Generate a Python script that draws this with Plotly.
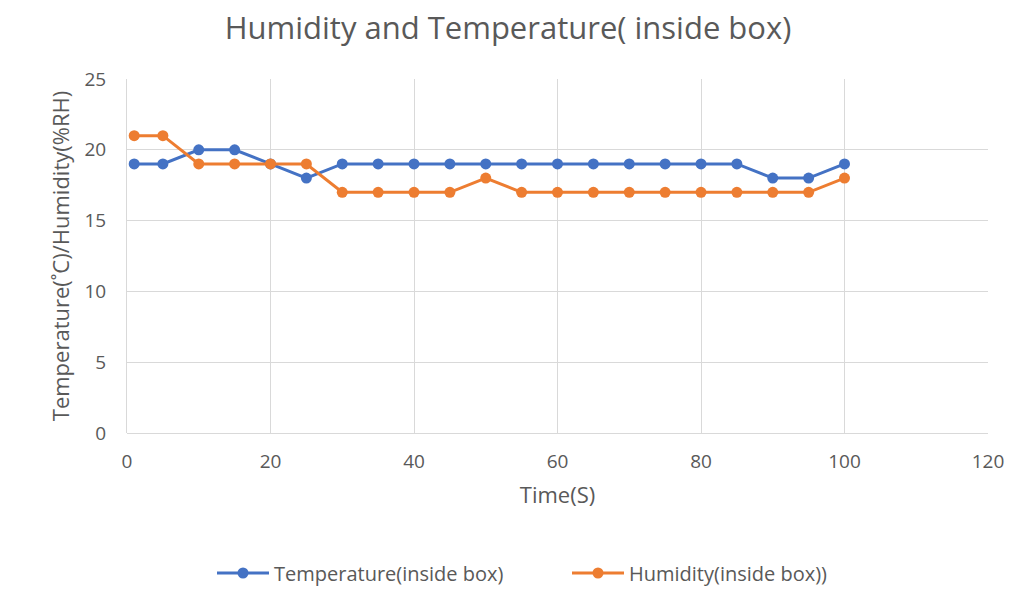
import plotly.graph_objects as go

time_s = [1, 5, 10, 15, 20, 25, 30, 35, 40, 45, 50, 55, 60, 65, 70, 75, 80, 85, 90, 95, 100]
temperature = [19, 19, 20, 20, 19, 18, 19, 19, 19, 19, 19, 19, 19, 19, 19, 19, 19, 19, 18, 18, 19]
humidity = [21, 21, 19, 19, 19, 19, 17, 17, 17, 17, 18, 17, 17, 17, 17, 17, 17, 17, 17, 17, 18]

font_family = "Open Sans, Liberation Sans, sans-serif"
grey = "#595959"

fig = go.Figure()
fig.add_trace(go.Scatter(x=time_s, y=temperature, mode="lines+markers",
                         name="Temperature(inside box)",
                         line=dict(color="#4472C4", width=3),
                         marker=dict(color="#4472C4", size=11)))
fig.add_trace(go.Scatter(x=time_s, y=humidity, mode="lines+markers",
                         name="Humidity(inside box))",
                         line=dict(color="#ED7D31", width=3),
                         marker=dict(color="#ED7D31", size=11)))

fig.update_layout(
    width=1016, height=606,
    margin=dict(l=127, r=28, t=79, b=173, autoexpand=False),
    paper_bgcolor="white", plot_bgcolor="white",
    font=dict(family=font_family, color=grey, size=18),
    title=dict(text="Humidity and Temperature( inside box)", x=0.5, xanchor="center",
               y=1 - 28 / 606, yanchor="middle",
               font=dict(size=31, color=grey, family=font_family)),
    showlegend=True,
    legend=dict(orientation="h", x=(212 - 127) / 861, xanchor="left",
                y=(433 - 573) / 354, yanchor="middle",
                font=dict(size=20, color=grey), itemwidth=52,
                entrywidth=288, entrywidthmode="pixels"),
    xaxis=dict(range=[0, 120], dtick=20, tick0=0, showgrid=True, gridcolor="#d9d9d9",
               gridwidth=1, zeroline=False, showline=False, automargin=False,
               tickfont=dict(size=19, color=grey), ticklabelstandoff=15,
               title=dict(text="Time(S)", font=dict(size=22, color=grey), standoff=14)),
    yaxis=dict(range=[0, 25], dtick=5, tick0=0, showgrid=True, gridcolor="#d9d9d9",
               gridwidth=1, zeroline=True, zerolinecolor="#d9d9d9", zerolinewidth=1,
               showline=True, linecolor="#d9d9d9", linewidth=1, automargin=False,
               tickfont=dict(size=19, color=grey), ticklabelstandoff=16,
               title=dict(text="Temperature(˚C)/Humidity(%RH)", font=dict(size=22, color=grey),
                          standoff=8)),
)

fig.write_html("out.html", config={"displayModeBar": False},
               post_script="document.body.style.margin='0px';")
